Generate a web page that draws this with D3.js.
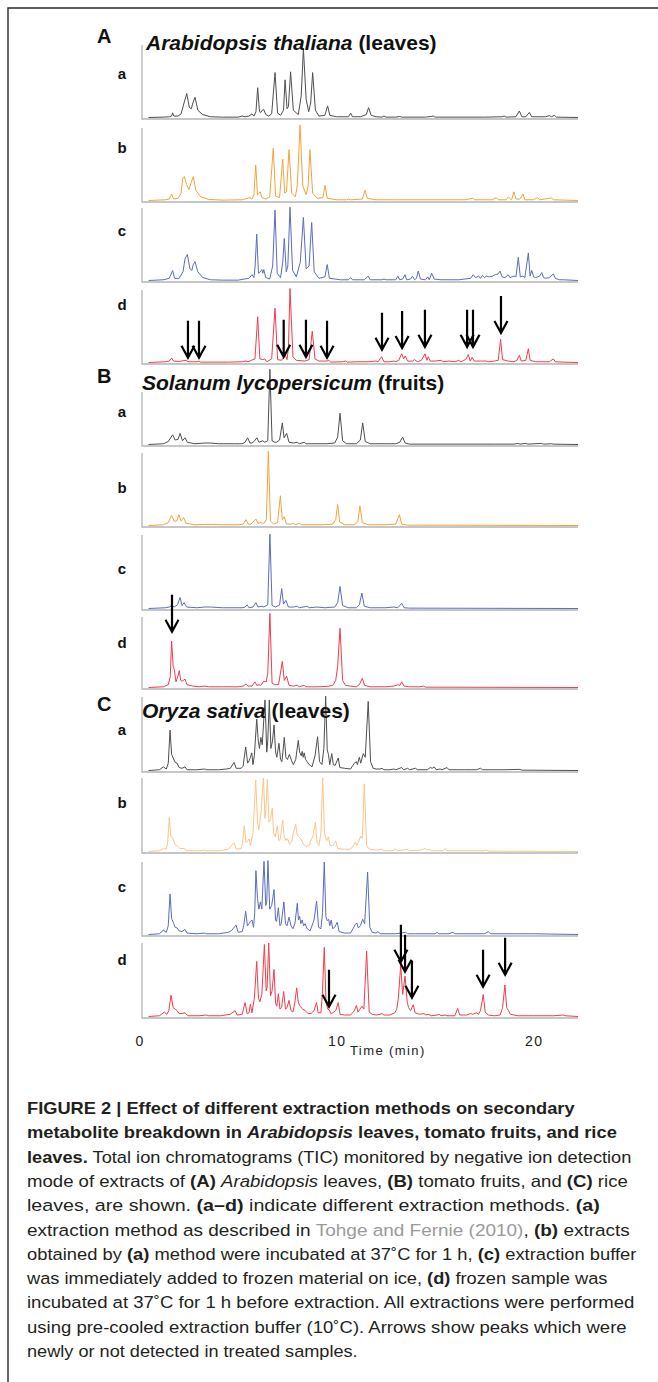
<!DOCTYPE html>
<html>
<head>
<meta charset="utf-8">
<script src="https://cdn.jsdelivr.net/npm/d3@7"></script>
<style>
  body { margin: 0; background: #fff; }
  svg { display: block; }
  text { font-family: "Liberation Sans", Arial, sans-serif; }
</style>
</head>
<body>
<svg id="fig" width="658" height="1382"></svg>
<script>
// ---- Chromatogram traces: [retention time (min), relative intensity (%)] ----
const arabA = [[0.45,0],[1.2,0.5],[1.5,1],[1.62,2],[1.67,6.5],[1.73,2],[1.95,2],[2.1,5],[2.25,20],[2.39,33],[2.52,14],[2.62,12],[2.7,20],[2.81,28],[2.95,10],[3.2,4],[3.6,1],[4.2,0.5],[5.0,0.5],[5.2,2],[5.35,1],[5.55,2],[5.7,5],[5.8,2],[5.9,8],[5.99,41],[6.08,8],[6.15,7],[6.22,10],[6.3,11],[6.4,4],[6.55,2],[6.7,5],[6.87,62],[7.0,6],[7.15,3],[7.3,10],[7.38,52],[7.48,12],[7.55,15],[7.66,63],[7.8,10],[8.05,4],[8.2,30],[8.31,95],[8.45,25],[8.58,8],[8.68,20],[8.78,62],[8.92,10],[9.1,2],[9.4,3],[9.54,16],[9.65,3],[10.0,1],[10.6,1],[10.71,6],[10.8,1],[11.2,1],[11.5,4],[11.62,13.5],[11.75,3],[12.0,1],[12.3,0.5],[12.4,2],[12.5,0.5],[13.0,0.5],[13.2,1.5],[13.3,0.5],[14.5,0.5],[14.8,1.5],[14.9,2],[15.0,0.5],[17.5,0.5],[18.4,1],[18.5,2],[18.6,0.5],[19.1,1],[19.27,9],[19.4,1],[19.6,1],[19.78,7],[19.9,1],[20.6,1],[20.8,2.5],[20.9,1],[21.05,3],[21.15,0.5],[22.25,0]];
const arabB = [[0.45,0],[1.3,1],[1.5,2],[1.62,9],[1.72,2],[1.95,3],[2.1,10],[2.18,30],[2.27,33],[2.38,22],[2.5,15],[2.62,25],[2.72,33],[2.85,14],[3.1,5],[3.5,1.5],[4.2,0.5],[5.2,1],[5.6,4],[5.7,2],[5.8,8],[5.89,49],[5.98,8],[6.05,10],[6.12,12],[6.2,4],[6.4,2],[6.6,5],[6.78,72],[6.9,6],[7.1,4],[7.26,57],[7.36,10],[7.45,12],[7.58,70],[7.72,10],[7.9,5],[8.0,20],[8.14,104],[8.28,20],[8.45,8],[8.55,20],[8.64,70],[8.78,10],[9.0,3],[9.3,4],[9.41,21],[9.52,3],[10.0,1],[10.5,1],[10.6,2],[10.7,1],[11.3,2],[11.44,14],[11.55,3],[12.0,1],[13.0,1],[16.5,1],[16.9,3],[17.0,1],[17.9,1],[18.1,4],[18.2,1],[18.6,1],[18.72,5],[18.85,1],[18.9,3],[19.0,12],[19.1,2],[19.3,2],[19.46,9],[19.55,1],[20.0,1],[20.2,4],[20.3,1],[20.9,3.5],[21.0,1],[22.25,0]];
const arabC = [[0.45,0],[1.2,1],[1.5,3],[1.67,13.7],[1.77,3],[2.0,3],[2.2,12],[2.3,30],[2.42,36],[2.55,16],[2.65,14],[2.72,22],[2.81,26],[2.95,12],[3.2,4],[3.6,1],[4.2,0.5],[5.0,0.5],[5.3,2],[5.55,3],[5.7,8],[5.8,4],[5.86,20],[5.94,64],[6.03,10],[6.12,12],[6.2,15],[6.25,10],[6.3,15],[6.4,4],[6.6,2],[6.75,20],[6.87,97],[6.98,10],[7.15,4],[7.26,25],[7.34,58],[7.44,12],[7.52,20],[7.63,101],[7.76,14],[7.95,5],[8.15,25],[8.31,87],[8.45,16],[8.6,20],[8.73,80],[8.86,12],[9.1,3],[9.4,5],[9.52,22],[9.63,3],[10.2,1],[10.6,1],[10.71,4],[10.8,1],[11.4,1],[11.6,6],[11.7,1],[12.3,1],[12.4,2],[12.5,1],[13.0,1],[13.1,6],[13.2,1],[13.35,2],[13.47,8],[13.55,1],[13.75,2],[13.85,6],[13.95,1],[14.05,3],[14.14,13],[14.25,2],[14.5,1],[14.62,5],[14.7,1],[14.82,10],[14.95,2],[15.3,1],[15.8,1],[16.2,1],[16.5,2],[16.8,3],[16.93,8],[17.05,4],[17.2,6],[17.3,3],[17.4,7],[17.5,4],[17.6,6],[17.75,5],[17.9,6],[18.05,8],[18.2,9],[18.29,13],[18.4,5],[18.55,4],[18.7,8],[18.8,4],[18.9,5],[19.0,6],[19.1,5],[19.22,32],[19.32,5],[19.45,6],[19.55,4],[19.73,38],[19.82,6],[19.9,14],[20.0,5],[20.1,4],[20.3,6],[20.41,11],[20.5,4],[20.6,3],[20.8,4],[21.0,9],[21.1,3],[21.3,1],[21.5,1],[22.25,0]];
const arabD = [[0.45,0],[1.3,1],[1.5,2],[1.62,6],[1.72,2],[2.0,1.5],[2.35,3],[2.45,1],[2.9,1],[3.0,2],[3.1,0.5],[4.5,0.5],[5.2,1],[5.4,2],[5.5,1],[5.75,4],[5.85,5],[5.99,63],[6.1,5],[6.25,4],[6.35,5],[6.45,1],[6.7,5],[6.87,75],[7.0,4],[7.2,3],[7.3,7],[7.4,10],[7.48,4],[7.55,20],[7.63,102],[7.78,8],[7.95,3],[8.4,2],[8.6,4],[8.76,43],[8.9,5],[9.1,2],[9.5,2],[9.6,3],[9.7,0.5],[10.3,1],[10.45,2],[10.55,0.5],[11.0,1],[11.6,1],[12.0,2],[12.1,1],[12.28,8],[12.4,1],[12.7,1],[12.9,2],[13.0,1],[13.15,3],[13.3,12],[13.4,5],[13.48,9],[13.6,2],[13.85,2],[13.95,4],[14.1,1],[14.3,3],[14.48,12],[14.58,3],[14.65,8],[14.75,2],[15.0,2],[15.3,3],[15.4,1],[15.7,2],[16.0,1],[16.2,3],[16.3,1],[16.45,3],[16.55,4],[16.68,11],[16.78,2],[16.88,7],[16.98,2],[17.3,2],[17.6,2],[17.7,1],[18.0,2],[18.2,3],[18.32,32],[18.42,4],[18.7,2],[19.0,1],[19.15,3],[19.27,10],[19.37,2],[19.6,3],[19.73,19],[19.82,3],[20.1,1],[20.8,1],[21.0,5],[21.1,1],[21.5,0.5],[22.25,0]];

const tomA = [[0.45,0],[1.2,1],[1.45,4],[1.67,13],[1.8,6],[1.95,7],[2.05,15],[2.17,5],[2.3,9],[2.42,3],[2.8,1],[3.3,2],[3.6,2],[4.0,1],[4.8,1],[5.2,1],[5.35,3],[5.48,9],[5.6,2],[5.7,2],[5.8,4],[5.95,9],[6.05,3],[6.25,5],[6.35,3],[6.5,5],[6.61,101],[6.72,5],[6.85,3],[6.95,3],[7.1,6],[7.24,29],[7.33,9],[7.46,15],[7.58,3],[7.8,2],[8.0,3],[8.1,1],[8.35,3],[8.45,1],[9.0,1],[9.5,1],[9.9,2],[10.05,10],[10.17,42],[10.3,5],[10.5,1],[11.0,1],[11.2,6],[11.32,29],[11.45,4],[11.7,1],[12.5,1],[13.0,1],[13.2,3],[13.35,10],[13.47,2],[13.7,0.5],[18.0,0.5],[19.0,0.5],[19.2,1.5],[19.3,0.5],[19.6,1.5],[19.7,0.5],[20.4,1.5],[20.5,0.5],[20.9,1],[21.0,0.5],[22.25,0]];
const tomB = [[0.45,0],[1.2,1],[1.45,4],[1.62,14],[1.75,6],[1.88,6],[1.99,15],[2.1,6],[2.23,11],[2.35,3],[2.8,1],[3.3,1.5],[3.7,1.5],[4.2,1],[5.0,1],[5.25,2],[5.4,8],[5.5,2],[5.65,2],[5.75,5],[5.9,9],[6.0,3],[6.15,4],[6.3,3],[6.43,8],[6.53,102],[6.64,6],[6.8,2],[7.0,4],[7.14,41],[7.24,8],[7.34,12],[7.45,2],[7.7,2],[7.8,3],[7.9,1],[8.1,3],[8.2,1],[8.7,1],[9.3,1],[9.8,2],[9.95,8],[10.05,29],[10.15,5],[10.4,1],[10.9,1],[11.07,5],[11.18,27],[11.3,4],[11.6,1],[12.5,1],[13.0,2],[13.18,15],[13.3,2],[13.6,0.5],[22.25,0]];
const tomC = [[0.45,0],[1.3,1],[1.5,2],[1.62,4],[1.75,2],[1.92,5],[2.05,15],[2.15,4],[2.25,8],[2.38,2],[2.9,1],[3.3,2],[3.6,2],[4.2,1],[5.0,1],[5.2,1],[5.35,2],[5.45,5],[5.55,1],[5.75,2],[5.9,8],[6.0,2],[6.2,3],[6.3,2],[6.5,5],[6.61,101],[6.72,4],[6.9,2],[7.1,5],[7.21,27],[7.3,6],[7.42,11],[7.55,2],[7.8,2],[8.0,3],[8.1,1],[8.5,3],[8.6,1],[9.0,2],[9.4,1],[9.9,2],[10.05,8],[10.17,30],[10.3,4],[10.6,1],[11.0,1],[11.15,5],[11.28,21],[11.4,3],[11.7,1],[12.5,1],[12.9,2],[13.1,1],[13.3,7],[13.42,1],[13.7,0.5],[22.25,0]];
const tomD = [[0.45,0],[1.2,1],[1.45,4],[1.55,15],[1.62,66],[1.7,30],[1.76,25],[1.84,8],[1.93,15],[2.01,24],[2.08,10],[2.15,9],[2.22,10],[2.3,12],[2.4,4],[2.7,2],[3.0,1],[3.3,2],[3.5,1],[4.2,1],[5.0,1],[5.25,2],[5.4,5],[5.5,2],[5.7,2],[5.85,8],[5.95,3],[6.05,4],[6.15,3],[6.3,9],[6.42,8],[6.5,20],[6.61,105],[6.72,6],[6.85,4],[7.05,4],[7.24,37],[7.34,10],[7.46,16],[7.58,3],[7.8,2],[8.0,3],[8.1,1],[8.35,3],[8.45,1],[9.0,1],[9.5,1.5],[9.8,3],[9.95,10],[10.05,30],[10.17,84],[10.3,10],[10.45,3],[10.7,2],[11.0,1],[11.15,4],[11.3,13],[11.42,3],[11.7,1],[12.5,1],[12.9,2],[13.1,4],[13.2,3],[13.3,8],[13.42,2],[13.7,1],[14.2,1],[14.4,2],[14.5,0.5],[22.25,0]];

const riceA = [[0.45,0],[1.0,1],[1.2,5],[1.35,2],[1.45,10],[1.54,55],[1.62,22],[1.7,17],[1.8,11],[1.9,10],[2.0,4],[2.15,3],[2.3,5],[2.4,1],[2.9,1],[3.3,2],[3.4,1],[4.0,1],[4.4,2],[4.6,3],[4.79,11],[4.9,3],[5.15,3],[5.25,6],[5.38,32],[5.48,10],[5.55,13],[5.62,18],[5.69,24],[5.75,8],[5.82,20],[5.94,70],[6.02,40],[6.08,30],[6.15,45],[6.22,35],[6.36,96],[6.45,25],[6.5,40],[6.58,96],[6.66,30],[6.74,40],[6.82,62],[6.9,25],[6.96,18],[7.07,37],[7.15,15],[7.22,12],[7.34,45],[7.42,18],[7.5,15],[7.6,22],[7.7,14],[7.8,8],[7.92,15],[8.05,41],[8.12,25],[8.2,20],[8.25,26],[8.3,18],[8.35,24],[8.42,15],[8.5,12],[8.6,8],[8.75,5],[8.9,20],[9.03,46],[9.13,12],[9.25,8],[9.35,30],[9.44,101],[9.52,28],[9.58,22],[9.65,8],[9.75,23],[9.83,8],[9.92,7],[10.08,17],[10.16,4],[10.4,3],[10.7,2],[10.9,10],[11.0,12],[11.05,8],[11.15,18],[11.22,10],[11.35,23],[11.45,18],[11.6,94],[11.72,12],[11.85,3],[12.0,2],[12.2,2],[12.3,3],[12.4,1],[12.7,1],[12.9,2],[13.0,1],[13.3,4],[13.4,1],[13.6,3],[13.7,1],[14.0,3],[14.1,1],[14.6,1],[14.75,4],[14.85,3],[14.95,5],[15.05,1],[15.25,2],[15.35,1],[15.6,4],[15.7,1],[16.5,1],[17.1,1],[17.3,3],[17.4,1],[18.5,1],[19.3,1.5],[19.4,0.5],[22.25,0]];
const riceB = [[0.45,0],[1.0,1],[1.2,4],[1.35,3],[1.42,12],[1.5,46],[1.58,20],[1.68,19],[1.78,10],[1.9,8],[2.05,4],[2.25,4],[2.4,1],[3.0,1],[3.3,2],[3.4,1],[4.0,1],[4.5,3],[4.79,12],[4.9,3],[5.15,4],[5.22,12],[5.31,35],[5.4,12],[5.48,14],[5.55,17],[5.62,8],[5.75,25],[5.89,97],[5.98,40],[6.05,30],[6.15,50],[6.28,100],[6.36,45],[6.4,55],[6.48,98],[6.56,40],[6.65,45],[6.73,59],[6.8,25],[6.88,20],[6.99,35],[7.06,15],[7.13,16],[7.26,43],[7.34,20],[7.42,15],[7.5,18],[7.6,10],[7.72,13],[7.8,25],[7.92,37],[8.0,22],[8.08,20],[8.15,18],[8.22,15],[8.3,10],[8.45,7],[8.6,8],[8.8,22],[8.92,40],[9.0,12],[9.1,8],[9.2,25],[9.29,100],[9.38,25],[9.45,18],[9.5,15],[9.58,20],[9.66,8],[9.8,8],[9.95,14],[10.05,4],[10.4,3],[10.7,3],[10.85,8],[10.95,13],[11.02,8],[11.1,12],[11.22,21],[11.3,18],[11.4,92],[11.52,8],[11.65,3],[12.0,2],[12.3,3],[12.4,1],[12.8,1],[13.0,3],[13.1,1],[13.6,3],[13.7,1],[14.3,2],[14.5,4],[14.6,2],[14.7,3],[14.8,1],[15.4,1],[15.5,4],[15.6,1],[17.4,1],[17.6,2],[17.7,0.5],[22.25,0]];
const riceC = [[0.45,0],[1.0,1],[1.2,6],[1.35,3],[1.45,12],[1.54,56],[1.62,22],[1.7,17],[1.8,10],[1.9,9],[2.0,5],[2.15,4],[2.3,7],[2.4,2],[2.9,1],[3.3,2],[3.4,1],[4.0,1],[4.5,3],[4.65,5],[4.89,13],[5.0,3],[5.2,4],[5.28,12],[5.38,32],[5.47,12],[5.55,15],[5.62,18],[5.7,20],[5.78,10],[5.84,30],[5.9,88],[5.98,50],[6.05,35],[6.13,45],[6.2,35],[6.31,101],[6.4,40],[6.45,45],[6.51,102],[6.6,35],[6.7,40],[6.82,62],[6.9,20],[6.95,18],[7.04,37],[7.12,12],[7.18,14],[7.32,45],[7.4,15],[7.48,12],[7.58,24],[7.68,12],[7.78,8],[7.88,15],[8.0,43],[8.06,20],[8.12,25],[8.18,15],[8.25,20],[8.32,12],[8.4,15],[8.5,8],[8.65,5],[8.85,20],[8.98,46],[9.08,10],[9.2,8],[9.28,30],[9.37,100],[9.45,25],[9.52,19],[9.59,21],[9.65,12],[9.72,20],[9.8,8],[9.9,10],[10.03,17],[10.12,4],[10.4,2],[10.7,2],[10.95,14],[11.02,16],[11.1,9],[11.2,12],[11.32,21],[11.42,15],[11.57,86],[11.68,10],[11.8,3],[12.0,2],[12.1,4],[12.2,1],[13.0,1],[13.5,3],[13.6,1],[14.0,1],[15.0,1],[15.1,3],[15.2,1],[15.7,1],[15.9,3],[16.0,1],[17.5,1],[17.7,4],[17.8,1],[19.0,1],[19.3,1],[20.0,1],[22.25,0]];
const riceD = [[0.45,0],[1.0,1],[1.25,6],[1.38,3],[1.48,8],[1.59,29],[1.7,12],[1.8,10],[1.9,8],[2.0,4],[2.15,4],[2.3,5],[2.45,1],[3.0,1],[3.4,2],[3.5,1],[4.1,1],[4.6,3],[4.84,8],[4.95,2],[5.2,3],[5.35,19],[5.45,4],[5.55,5],[5.62,17],[5.7,5],[5.82,25],[5.94,75],[6.03,25],[6.1,20],[6.2,30],[6.33,98],[6.42,35],[6.47,40],[6.55,100],[6.64,28],[6.72,35],[6.82,64],[6.9,18],[6.96,14],[7.04,31],[7.12,10],[7.2,12],[7.31,34],[7.4,10],[7.48,12],[7.58,22],[7.68,8],[7.78,6],[7.87,18],[7.97,39],[8.05,20],[8.12,15],[8.2,12],[8.28,10],[8.4,8],[8.55,4],[8.7,4],[8.85,8],[8.98,19],[9.06,5],[9.2,5],[9.27,30],[9.37,94],[9.46,18],[9.55,10],[9.62,9],[9.7,4],[9.8,5],[9.95,8],[10.08,19],[10.17,3],[10.4,2],[10.7,2],[10.9,8],[11.0,15],[11.08,6],[11.18,10],[11.28,14],[11.38,10],[11.52,89],[11.65,6],[11.8,3],[12.0,2],[12.2,3],[12.3,4],[12.4,2],[12.7,2],[12.95,5],[13.05,10],[13.13,25],[13.25,70],[13.35,30],[13.47,55],[13.58,20],[13.65,12],[13.75,8],[13.89,16],[13.98,5],[14.2,3],[14.45,4],[14.5,2],[14.65,3],[14.8,1],[15.1,2],[15.2,3],[15.3,1],[15.5,2],[15.6,1],[16.0,1],[16.14,11],[16.25,2],[16.6,2],[16.8,4],[16.9,3],[17.1,5],[17.2,3],[17.3,8],[17.44,30],[17.54,6],[17.7,2],[18.0,1],[18.3,2],[18.42,12],[18.54,43],[18.63,12],[18.72,8],[18.82,3],[19.0,2],[19.2,1],[19.5,1],[20.0,1],[21.0,1],[21.5,2],[21.6,1],[22.25,0]];

// ---- Arrows marking changed peaks: [retention time (min), intensity at arrow tip (%)] ----
const arabArrows = [[2.45,6.5],[3.01,6.5],[7.31,7.8],[8.44,7.8],[9.51,6.5],[12.3,17.5],[13.32,20],[14.48,21.6],[16.62,21.6],[16.92,21.6],[18.34,40.8]];
const tomArrows  = [[1.64,79]];
const riceArrows = [[9.61,13.2],[13.26,74.5],[13.47,61],[13.82,25.5],[17.43,40.5],[18.55,56.8]];

// ---- Labels ----
const panelLetters = ["A", "B", "C"];
const methodLabels = ["a", "b", "c", "d"];
const panelTitles = [
  [["Arabidopsis thaliana", "italic"], [" (leaves)", "normal"]],
  [["Solanum lycopersicum", "italic"], [" (fruits)", "normal"]],
  [["Oryza sativa", "italic"], [" (leaves)", "normal"]]
];
const timeTicks = [0, 10, 20];
const timeDomain = [0, 22.25];
const axisTitle = "Time (min)";

// ---- Layout ----
const svg = d3.select("#fig");
const x = d3.scaleLinear().domain(timeDomain).range([139.7, 578]);
const axisLeft = 142;

const colors = { a: "#4f4f4f", b: "#f6a23c", bLight: "#fbc68a", c: "#5a6dbf", d: "#ef3e4c" };

const panels = [
  { letterY: 43, titleY: 50, rows: [
      { key: "a", data: arabA, top: 45, bottom: 119, color: colors.a, labelY: 79 },
      { key: "b", data: arabB, top: 128, bottom: 202, color: colors.b, labelY: 153 },
      { key: "c", data: arabC, top: 208, bottom: 282, color: colors.c, labelY: 236 },
      { key: "d", data: arabD, top: 290, bottom: 364, color: colors.d, labelY: 310, arrows: arabArrows } ] },
  { letterY: 383, titleY: 390, rows: [
      { key: "a", data: tomA, top: 370, bottom: 446, color: colors.a, labelY: 417, axisTop: 392 },
      { key: "b", data: tomB, top: 453, bottom: 527, color: colors.b, labelY: 493 },
      { key: "c", data: tomC, top: 535, bottom: 610, color: colors.c, labelY: 574 },
      { key: "d", data: tomD, top: 617, bottom: 689, color: colors.d, labelY: 648, arrows: tomArrows } ] },
  { letterY: 711, titleY: 718, rows: [
      { key: "a", data: riceA, top: 697, bottom: 772, color: colors.a, labelY: 735 },
      { key: "b", data: riceB, top: 778, bottom: 853, color: colors.bLight, labelY: 808 },
      { key: "c", data: riceC, top: 862, bottom: 936, color: colors.c, labelY: 892 },
      { key: "d", data: riceD, top: 943, bottom: 1018, color: colors.d, labelY: 965, arrows: riceArrows } ] }
];

// white page and the outer frame (top and left rules)
svg.append("rect").attr("width", 658).attr("height", 1382).attr("fill", "#fff");
svg.append("path").attr("d", "M8,1382 L8,8 L658,8").attr("fill", "none")
   .attr("stroke", "#2a2a2a").attr("stroke-width", 1.4);

panels.forEach((p, pi) => {
  const g = svg.append("g");
  g.append("text").attr("x", 97).attr("y", p.letterY)
    .attr("font-size", 20).attr("font-weight", "bold").attr("fill", "#111")
    .text(panelLetters[pi]);

  p.rows.forEach((r, ri) => {
    const y = d3.scaleLinear().domain([0, 100]).range([r.bottom - 1.5, r.top]);
    // light grey frame of each chromatogram
    g.append("path")
      .attr("d", `M${axisLeft},${r.axisTop || r.top} L${axisLeft},${r.bottom} L${x(timeDomain[1])},${r.bottom}`)
      .attr("fill", "none").attr("stroke", "#b4b4b4").attr("stroke-width", 1.3);
    g.append("text").attr("x", 122).attr("y", r.labelY).attr("text-anchor", "middle")
      .attr("font-size", 15).attr("font-weight", "bold").attr("fill", "#111")
      .text(methodLabels[ri]);
    const line = d3.line().x(d => x(d[0])).y(d => y(d[1]));
    g.append("path").datum(r.data).attr("d", line)
      .attr("fill", "none").attr("stroke", r.color).attr("stroke-width", 1)
      .attr("stroke-linejoin", "round");
    if (r.arrows) {
      const len = 37;
      g.append("g").selectAll("path").data(r.arrows).join("path")
        .attr("d", d => {
          const ax = x(d[0]), ay = y(d[1]);
          return `M${ax},${ay - len} L${ax},${ay} M${ax - 6.5},${ay - 12} L${ax},${ay} L${ax + 6.5},${ay - 12}`;
        })
        .attr("fill", "none").attr("stroke", "#000").attr("stroke-width", 2.2)
        .attr("stroke-linecap", "butt").attr("stroke-linejoin", "miter");
    }
  });

  // species title drawn over the traces
  const t = g.append("text").attr("x", pi === 0 ? 146 : 142).attr("y", p.titleY)
    .attr("font-size", 21).attr("font-weight", "bold").attr("fill", "#111");
  panelTitles[pi].forEach(s => t.append("tspan").attr("font-style", s[1]).text(s[0]));
  t.style("white-space", "pre");
});

// time axis
const axis = d3.axisBottom(x).tickValues(timeTicks).tickSize(0).tickPadding(0).tickFormat(d3.format("d"));
const ag = svg.append("g").attr("transform", "translate(0,1046)").call(axis);
ag.select(".domain").remove();
ag.selectAll("text").attr("dy", null).attr("y", 0)
  .attr("font-family", "'Liberation Sans', Arial, sans-serif")
  .attr("font-size", 14).attr("letter-spacing", "1.5px").attr("fill", "#222");
svg.append("text").attr("x", 350).attr("y", 1055).attr("font-size", 13)
  .attr("letter-spacing", "1.4px").attr("fill", "#222").text(axisTitle);

// ---- Caption ----
const captionLines = [
  [["FIGURE 2 | Effect of different extraction methods on secondary", "b"]],
  [["metabolite breakdown in ", "b"], ["Arabidopsis", "bi"], [" leaves, tomato fruits, and rice", "b"]],
  [["leaves.", "b"], [" Total ion chromatograms (TIC) monitored by negative ion detection", "n"]],
  [["mode of extracts of ", "n"], ["(A)", "b"], [" ", "n"], ["Arabidopsis", "i"], [" leaves, ", "n"], ["(B)", "b"], [" tomato fruits, and ", "n"], ["(C)", "b"], [" rice", "n"]],
  [["leaves, are shown. ", "n"], ["(a–d)", "b"], [" indicate different extraction methods. ", "n"], ["(a)", "b"]],
  [["extraction method as described in ", "n"], ["Tohge and Fernie (2010)", "g"], [", ", "n"], ["(b)", "b"], [" extracts", "n"]],
  [["obtained by ", "n"], ["(a)", "b"], [" method were incubated at 37˚C for 1 h, ", "n"], ["(c)", "b"], [" extraction buffer", "n"]],
  [["was immediately added to frozen material on ice, ", "n"], ["(d)", "b"], [" frozen sample was", "n"]],
  [["incubated at 37˚C for 1 h before extraction. All extractions were performed", "n"]],
  [["using pre-cooled extraction buffer (10˚C). Arrows show peaks which were", "n"]],
  [["newly or not detected in treated samples.", "n"]]
];
const captionEnds = [575, 617, 632, 628, 600, 630, 637, 608, 635, 627, 358];
const capX = 27, capY = 1114, capLead = 24.3;

captionLines.forEach((segs, i) => {
  const t = svg.append("text").attr("x", 0).attr("y", 0)
    .attr("font-size", 16.5).attr("fill", "#231f20").style("white-space", "pre");
  segs.forEach(s => {
    const ts = t.append("tspan").text(s[0]);
    if (s[1].includes("b")) ts.attr("font-weight", "bold");
    if (s[1].includes("i")) ts.attr("font-style", "italic");
    if (s[1] === "g") ts.attr("fill", "#9a9a9a");
  });
  const w = t.node().getComputedTextLength();
  const sx = (captionEnds[i] - capX) / w;
  t.attr("transform", `translate(${capX},${capY + i * capLead}) scale(${sx},1)`);
});
</script>
</body>
</html>
